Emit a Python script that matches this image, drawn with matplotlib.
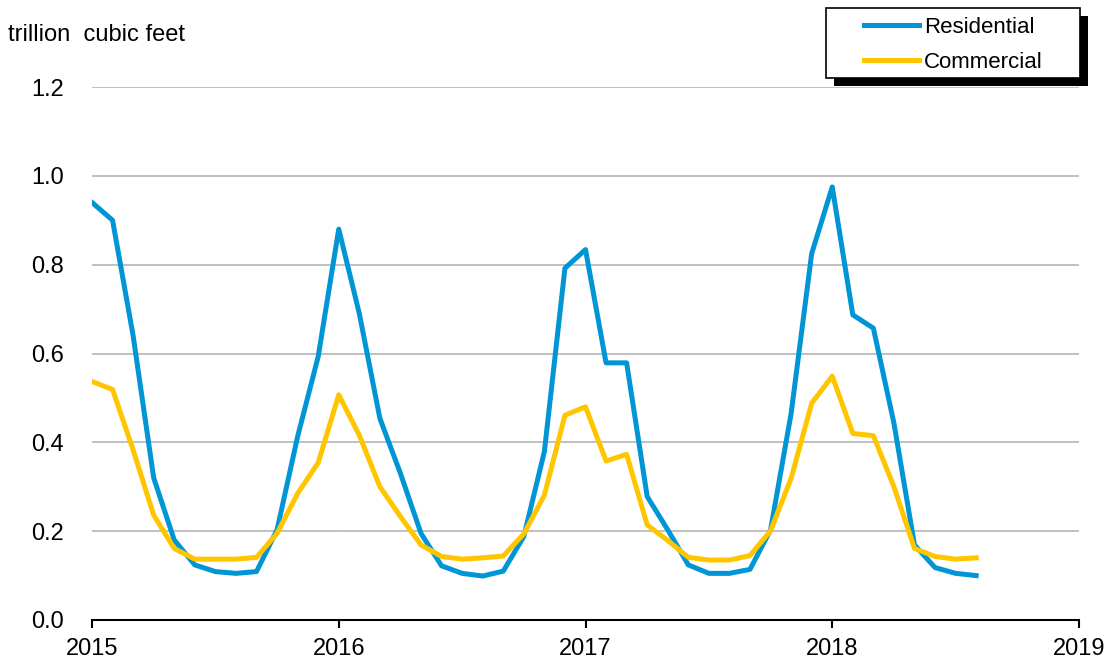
import matplotlib.pyplot as plt
import numpy as np
from matplotlib.patches import Rectangle

plt.rcParams['font.family'] = ['Liberation Sans', 'DejaVu Sans']

# monthly values, Jan 2015 - Aug 2018 (trillion cubic feet)
residential = [0.94, 0.90, 0.64, 0.32, 0.18, 0.124, 0.109, 0.105, 0.109, 0.203, 0.413, 0.593,
               0.88, 0.69, 0.454, 0.33, 0.195, 0.122, 0.105, 0.099, 0.110, 0.188, 0.379, 0.792,
               0.834, 0.579, 0.579, 0.278, 0.203, 0.124, 0.105, 0.105, 0.114, 0.203, 0.465, 0.825,
               0.975, 0.687, 0.657, 0.443, 0.169, 0.118, 0.105, 0.100]
commercial = [0.537, 0.519, 0.383, 0.236, 0.161, 0.137, 0.137, 0.137, 0.141, 0.195, 0.285, 0.354,
              0.507, 0.416, 0.300, 0.233, 0.169, 0.143, 0.137, 0.140, 0.144, 0.194, 0.281, 0.461,
              0.480, 0.358, 0.373, 0.214, 0.179, 0.141, 0.135, 0.135, 0.145, 0.201, 0.319, 0.488,
              0.549, 0.420, 0.415, 0.300, 0.161, 0.143, 0.137, 0.140]
years = [2015, 2016, 2017, 2018, 2019]
yticks = [0.0, 0.2, 0.4, 0.6, 0.8, 1.0, 1.2]

x = 2015 + np.arange(len(residential)) / 12.

W, H = 1114., 669.
fig = plt.figure(figsize=(11.14, 6.69), dpi=100)
ax = fig.add_axes([92/W, 1 - 620/H, (1079 - 92)/W, (620 - 87)/H])

# gridlines broken at each year boundary
for yv in yticks[1:]:
    for yr in years[:-1]:
        ax.plot([yr + 0.004, yr + 1 - 0.004], [yv, yv], color='#c0c0c0', lw=1.4, zorder=1)

l1, = ax.plot(x, residential, color='#0096d6', lw=3.6, zorder=3)
l2, = ax.plot(x, commercial, color='#ffc600', lw=3.6, zorder=3)

ax.set_xlim(2015, 2019)
ax.set_ylim(0, 1.2)
ax.set_xticks(years)
ax.set_xticklabels([str(y) for y in years], fontsize=17)
ax.set_yticks(yticks)
ax.set_yticklabels(['%.1f' % v for v in yticks], fontsize=17)
for s in ['left', 'right', 'top']:
    ax.spines[s].set_visible(False)
ax.spines['bottom'].set_linewidth(1.5)
ax.tick_params(axis='x', direction='out', length=6, width=1.5, pad=7)
ax.tick_params(axis='y', length=0, pad=20)

fig.text(8/W, 1 - 41/H, 'trillion  cubic feet', fontsize=17, va='baseline', ha='left')

# legend box with hard shadow
fig.patches.append(Rectangle((834/W, 1 - 86/H), 254/W, 70/H, transform=fig.transFigure,
                             facecolor='black', edgecolor='none', zorder=5))
fig.patches.append(Rectangle((826/W, 1 - 78/H), 254/W, 70/H, transform=fig.transFigure,
                             facecolor='white', edgecolor='black', lw=1.2, zorder=6))
leg = fig.legend([l1, l2], ['Residential', 'Commercial'], loc='center',
                 bbox_to_anchor=(953/W, 1 - 45/H), frameon=False, fontsize=16,
                 handlelength=2.5, handletextpad=0.2, labelspacing=0.62, borderpad=0)
leg.set_zorder(7)

fig.savefig('out.png', dpi=100)
